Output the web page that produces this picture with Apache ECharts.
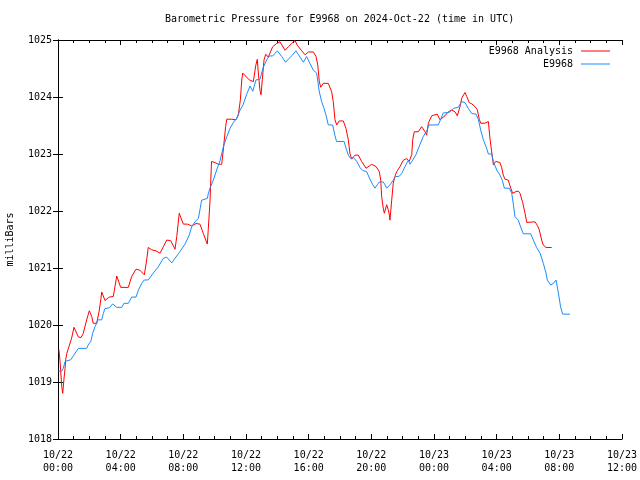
<!DOCTYPE html>
<html><head><meta charset="utf-8">
<script src="https://cdn.jsdelivr.net/npm/echarts@6/dist/echarts.min.js"></script>
<style>html,body{margin:0;padding:0;background:#fff}#c{width:640px;height:480px}</style>
</head><body><div id="c"></div>
<script>
// hours since 2024-10-22 00:00 UTC
var analysisHours = [0.06,0.13,0.24,0.30,0.38,0.45,0.49,0.56,0.70,0.87,1.02,1.30,1.47,1.61,1.83,2.00,2.15,2.25,2.47,2.62,2.73,2.79,3.00,3.27,3.53,3.75,4.00,4.49,4.70,4.98,5.23,5.51,5.66,5.76,5.98,6.26,6.51,6.72,6.94,7.19,7.47,7.58,7.74,8.00,8.25,8.53,8.81,9.06,9.27,9.53,9.59,9.70,9.80,10.02,10.23,10.45,10.55,10.70,10.77,11.09,11.36,11.51,11.64,11.73,11.79,12.21,12.47,12.62,12.72,12.78,12.89,12.96,13.04,13.15,13.26,13.42,13.53,13.70,13.96,14.17,14.28,14.49,14.70,14.92,15.13,15.27,15.56,15.77,15.98,16.30,16.47,16.58,16.68,16.77,16.93,17.04,17.25,17.47,17.57,17.68,17.79,17.95,18.21,18.38,18.53,18.64,18.75,18.96,19.17,19.38,19.66,19.87,20.02,20.30,20.51,20.60,20.66,20.76,20.83,20.98,21.08,21.15,21.19,21.30,21.40,21.51,21.62,21.83,22.04,22.26,22.42,22.58,22.64,22.74,23.00,23.21,23.43,23.53,23.64,23.85,23.96,24.21,24.38,24.49,24.70,24.91,25.13,25.34,25.49,25.66,25.77,25.98,26.09,26.25,26.41,26.62,26.76,26.89,26.98,27.25,27.47,27.57,27.68,27.79,27.94,28.21,28.32,28.42,28.53,28.74,28.90,29.02,29.23,29.38,29.49,29.66,29.81,29.92,30.02,30.45,30.59,30.72,30.87,30.98,31.15,31.51];
var analysisValues = [1019.57,1019.36,1018.92,1018.80,1019.05,1019.24,1019.39,1019.50,1019.62,1019.77,1019.96,1019.79,1019.78,1019.85,1020.09,1020.25,1020.15,1020.03,1020.03,1020.23,1020.44,1020.58,1020.43,1020.49,1020.50,1020.86,1020.66,1020.66,1020.85,1020.98,1020.96,1020.88,1021.14,1021.36,1021.32,1021.30,1021.26,1021.37,1021.49,1021.48,1021.33,1021.55,1021.96,1021.77,1021.77,1021.74,1021.78,1021.77,1021.61,1021.42,1021.67,1022.16,1022.87,1022.85,1022.82,1022.82,1023.07,1023.48,1023.61,1023.61,1023.60,1023.68,1023.95,1024.30,1024.42,1024.30,1024.27,1024.55,1024.66,1024.44,1024.12,1024.04,1024.30,1024.65,1024.75,1024.70,1024.70,1024.88,1024.94,1024.97,1024.94,1024.82,1024.88,1024.94,1024.99,1024.91,1024.81,1024.74,1024.79,1024.79,1024.71,1024.56,1024.27,1024.17,1024.24,1024.27,1024.24,1024.09,1023.92,1023.60,1023.51,1023.58,1023.58,1023.45,1023.25,1023.00,1022.91,1022.98,1022.98,1022.87,1022.75,1022.79,1022.82,1022.78,1022.69,1022.54,1022.25,1022.05,1021.96,1022.11,1022.02,1021.93,1021.84,1022.19,1022.49,1022.61,1022.69,1022.78,1022.89,1022.92,1022.87,1022.99,1023.25,1023.39,1023.39,1023.48,1023.39,1023.33,1023.54,1023.67,1023.70,1023.70,1023.60,1023.57,1023.67,1023.74,1023.77,1023.74,1023.67,1023.83,1023.98,1024.08,1024.01,1023.90,1023.88,1023.83,1023.78,1023.61,1023.54,1023.54,1023.57,1023.28,1023.04,1022.81,1022.87,1022.85,1022.76,1022.63,1022.56,1022.54,1022.40,1022.31,1022.34,1022.35,1022.31,1022.15,1021.96,1021.80,1021.81,1021.81,1021.75,1021.67,1021.49,1021.40,1021.36,1021.36];
var stationHours = [0.02,0.24,0.34,0.45,0.51,0.81,0.94,1.15,1.30,1.83,1.93,2.09,2.21,2.36,2.47,2.53,2.79,2.89,3.00,3.27,3.49,3.75,4.07,4.21,4.49,4.70,4.98,5.13,5.34,5.51,5.76,6.08,6.40,6.72,6.94,7.26,7.47,7.79,8.11,8.38,8.53,8.74,8.96,9.17,9.27,9.53,9.59,9.70,9.91,10.13,10.34,10.55,10.77,10.98,11.19,11.41,11.62,11.81,12.03,12.26,12.43,12.64,12.89,13.10,13.32,13.49,13.70,14.00,14.28,14.53,14.76,14.98,15.19,15.40,15.66,15.87,16.08,16.30,16.51,16.68,16.83,16.98,17.11,17.25,17.53,17.68,17.78,18.26,18.41,18.53,18.68,18.85,19.07,19.28,19.45,19.70,19.91,20.09,20.23,20.38,20.51,20.76,20.87,20.98,21.19,21.40,21.51,21.78,21.94,22.15,22.36,22.47,22.64,22.85,23.11,23.32,23.53,23.68,24.27,24.49,24.59,24.98,25.23,25.55,25.77,25.98,26.19,26.41,26.68,26.83,26.98,27.15,27.36,27.47,27.68,27.79,27.85,28.00,28.21,28.36,28.49,28.81,28.96,29.06,29.17,29.38,29.53,29.70,30.17,30.34,30.55,30.77,30.98,31.15,31.23,31.45,31.62,31.79,31.94,32.08,32.21,32.68];
var stationValues = [1019.19,1019.19,1019.24,1019.36,1019.39,1019.39,1019.44,1019.53,1019.59,1019.59,1019.65,1019.71,1019.85,1019.97,1020.03,1020.09,1020.09,1020.20,1020.29,1020.30,1020.37,1020.31,1020.31,1020.38,1020.38,1020.49,1020.49,1020.61,1020.73,1020.79,1020.79,1020.91,1021.02,1021.17,1021.19,1021.09,1021.17,1021.29,1021.42,1021.58,1021.72,1021.81,1021.87,1022.19,1022.22,1022.22,1022.30,1022.40,1022.54,1022.72,1022.88,1023.12,1023.30,1023.45,1023.55,1023.63,1023.77,1023.86,1024.04,1024.19,1024.10,1024.30,1024.31,1024.52,1024.65,1024.72,1024.72,1024.81,1024.71,1024.61,1024.68,1024.74,1024.81,1024.72,1024.61,1024.71,1024.59,1024.47,1024.42,1024.09,1023.92,1023.80,1023.68,1023.51,1023.51,1023.32,1023.22,1023.22,1023.08,1022.98,1022.92,1022.94,1022.87,1022.76,1022.71,1022.69,1022.56,1022.46,1022.40,1022.46,1022.51,1022.51,1022.46,1022.40,1022.46,1022.54,1022.60,1022.61,1022.66,1022.78,1022.89,1022.82,1022.89,1022.99,1023.17,1023.31,1023.40,1023.51,1023.51,1023.65,1023.72,1023.73,1023.80,1023.82,1023.92,1023.90,1023.80,1023.71,1023.70,1023.61,1023.42,1023.25,1023.10,1023.00,1023.00,1022.87,1022.84,1022.72,1022.63,1022.54,1022.40,1022.40,1022.31,1022.13,1021.90,1021.84,1021.72,1021.60,1021.60,1021.49,1021.36,1021.26,1021.08,1020.91,1020.79,1020.70,1020.73,1020.79,1020.56,1020.32,1020.19,1020.19];
var seriesNames = ['E9968 Analysis', 'E9968'];
var titleText = 'Barometric Pressure for E9968 on 2024-Oct-22 (time in UTC)';
var yName = 'milliBars';

function zip(a, b) { return a.map(function (t, i) { return [t, b[i]]; }); }
function pad(n) { return (n < 10 ? '0' : '') + n; }
var FONT = 'DejaVu Sans Mono';
var tickStyle = { color: '#000', width: 1 };
var chart = echarts.init(document.getElementById('c'), null, { renderer: 'canvas' });
chart.setOption({
  animation: false,
  backgroundColor: '#fff',
  title: { text: titleText, left: 165, top: 14, padding: 0,
    textStyle: { fontFamily: FONT, fontSize: 10, fontWeight: 'normal', color: '#000' } },
  legend: { data: seriesNames, orient: 'vertical', right: 30, top: 45, align: 'right', padding: 0,
    icon: 'rect', itemWidth: 29, itemHeight: 1, itemGap: 1,
    textStyle: { fontFamily: FONT, fontSize: 10, color: '#000', lineHeight: 12, padding: [0, 3, 0, 0] } },
  grid: { left: 58, right: 18, top: 40, bottom: 41, outerBoundsMode: 'none', containLabel: false },
  xAxis: [{
    type: 'value', min: 0, max: 36, interval: 4,
    axisLine: { lineStyle: { color: '#000' } },
    axisTick: { inside: true, length: 5, lineStyle: tickStyle },
    minorTick: { show: true, splitNumber: 4, length: 3, lineStyle: tickStyle },
    splitLine: { show: false },
    axisLabel: { margin: 10, lineHeight: 13, color: '#000', fontFamily: FONT, fontSize: 10,
      formatter: function (v) { return (v < 24 ? '10/22' : '10/23') + '\n' + pad(v % 24) + ':00'; } }
  }, {
    type: 'value', min: 0, max: 36, interval: 4, position: 'top',
    axisLine: { lineStyle: { color: '#000' } },
    axisTick: { inside: true, length: 5, lineStyle: tickStyle },
    minorTick: { show: true, splitNumber: 4, length: 3, lineStyle: tickStyle },
    splitLine: { show: false }, axisLabel: { show: false }
  }],
  yAxis: [{
    type: 'value', min: 1018, max: 1025, interval: 1,
    name: yName, nameLocation: 'middle', nameGap: 43, nameRotate: 90,
    nameTextStyle: { fontFamily: FONT, fontSize: 10, color: '#000' },
    axisLine: { show: true, lineStyle: { color: '#000' } },
    axisTick: { show: true, inside: true, length: 5, lineStyle: tickStyle },
    splitLine: { show: false },
    axisLabel: { margin: 6, color: '#000', fontFamily: FONT, fontSize: 10,
      formatter: function (v) { return String(v); } }
  }, {
    type: 'value', min: 1018, max: 1025, interval: 1, position: 'right',
    axisLine: { show: true, lineStyle: { color: '#000' } },
    axisTick: { show: true, inside: true, length: 5, lineStyle: tickStyle },
    splitLine: { show: false }, axisLabel: { show: false }
  }],
  series: [{
    name: seriesNames[0], type: 'line', data: zip(analysisHours, analysisValues),
    symbol: 'none', lineStyle: { color: '#ff0000', width: 1 }, itemStyle: { color: '#ff0000' }
  }, {
    name: seriesNames[1], type: 'line', data: zip(stationHours, stationValues),
    symbol: 'none', lineStyle: { color: '#1a8cff', width: 1 }, itemStyle: { color: '#1a8cff' }
  }]
});
</script></body></html>
